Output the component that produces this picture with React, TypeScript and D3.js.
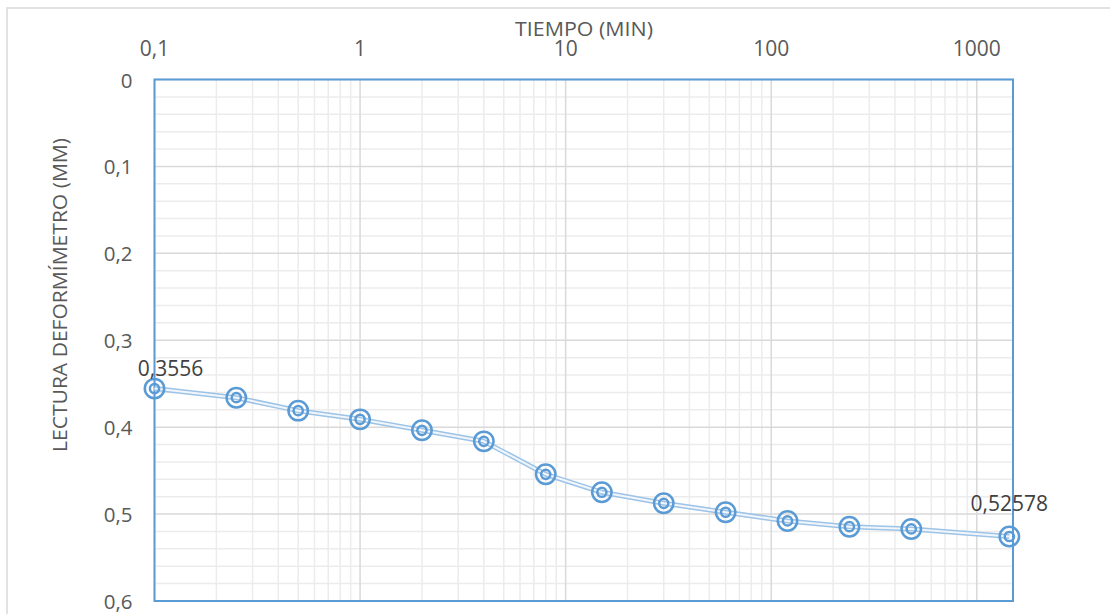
import React from "react";
import * as d3 from "d3";

// Consolidation reading vs. elapsed time (log scale)
const timeMin: number[] = [0.1, 0.25, 0.5, 1, 2, 4, 8, 15, 30, 60, 120, 240, 480, 1440];
const readingMm: number[] = [
  0.3556, 0.3661, 0.381, 0.391, 0.4036, 0.4163, 0.4542, 0.4749, 0.4876, 0.4979, 0.5079,
  0.5145, 0.5171, 0.52578,
];
const xTickValues: number[] = [0.1, 1, 10, 100, 1000];
const yTickValues: number[] = [0, 0.1, 0.2, 0.3, 0.4, 0.5, 0.6];
const labelledIndex: number[] = [0, timeMin.length - 1];

const W = 1110;
const H = 614;
const plot = { left: 154.5, right: 1013, top: 79.5, bottom: 601 };

const FONT = "'Open Sans', 'Noto Sans', sans-serif";
const TEXT = "#595959";
const LABEL = "#404040";
const BLUE = "#5b9bd5";
const LINE = "#9dc3e6";

const fmt = (v: number) => String(v).replace(".", ",");

export default function App() {
  const x = d3.scaleLog().domain([0.1, 1500]).range([plot.left, plot.right]);
  const y = d3.scaleLinear().domain([0, 0.6]).range([plot.top, plot.bottom]);

  // minor vertical gridlines: 2..9 within each decade
  const xMinor: number[] = [];
  for (let d = 0.1; d < 1500; d *= 10) {
    for (let k = 2; k <= 9; k++) {
      const v = d * k;
      if (v < 1500) xMinor.push(v);
    }
  }
  // minor horizontal gridlines every 0.02 between the 0.1 majors
  const yMinor = d3.range(0, 30).map((i) => i * 0.02).filter((_, i) => i % 5 !== 0);

  const line = d3
    .line<number>()
    .x((_, i) => x(timeMin[i]))
    .y((d) => y(d))(readingMm) as string;

  const labelOffsets: Record<number, [number, number]> = {
    0: [16, -12.5],
    [timeMin.length - 1]: [0, -25],
  };

  return (
    <svg
      width={W}
      height={H}
      viewBox={`0 0 ${W} ${H}`}
      style={{ position: "absolute", left: 0, top: 0, display: "block", background: "#fff" }}
    >
      {/* chart frame */}
      <rect x={7} y={8} width={W + 10} height={H + 10} fill="#fff" stroke="#d9d9d9" strokeWidth={1.5} />

      {/* minor gridlines */}
      <g stroke="#ececec" strokeWidth={1.5}>
        {xMinor.map((v) => (
          <line key={"xm" + v} x1={x(v)} x2={x(v)} y1={plot.top} y2={plot.bottom} />
        ))}
        {yMinor.map((v) => (
          <line key={"ym" + v} x1={plot.left} x2={plot.right} y1={y(v)} y2={y(v)} />
        ))}
      </g>
      {/* major gridlines */}
      <g stroke="#d9d9d9" strokeWidth={1.5}>
        {xTickValues.map((v) => (
          <line key={"xM" + v} x1={x(v)} x2={x(v)} y1={plot.top} y2={plot.bottom} />
        ))}
        {yTickValues.map((v) => (
          <line key={"yM" + v} x1={plot.left} x2={plot.right} y1={y(v)} y2={y(v)} />
        ))}
      </g>

      {/* plot area border */}
      <rect
        x={plot.left}
        y={plot.top}
        width={plot.right - plot.left}
        height={plot.bottom - plot.top}
        fill="none"
        stroke={BLUE}
        strokeWidth={2}
      />

      {/* x tick labels (top) */}
      <g fontFamily={FONT} fontSize={21} fill={TEXT} textAnchor="middle">
        {xTickValues.map((v) => (
          <text key={"xt" + v} x={x(v)} y={56}>
            {fmt(v)}
          </text>
        ))}
      </g>
      {/* y tick labels */}
      <g fontFamily={FONT} fontSize={20.5} fill={TEXT} textAnchor="end">
        {yTickValues.map((v) => (
          <text key={"yt" + v} x={132.5} y={y(v) + 8}>
            {fmt(v)}
          </text>
        ))}
      </g>

      {/* axis titles */}
      <text
        x={584}
        y={35.5}
        fontFamily={FONT}
        fontSize={20.5}
        fill={TEXT}
        textAnchor="middle"
        textLength={138}
        lengthAdjust="spacingAndGlyphs"
      >
        TIEMPO (MIN)
      </text>
      <text
        transform={`translate(67,295) rotate(-90)`}
        fontFamily={FONT}
        fontSize={19.5}
        fill={TEXT}
        textAnchor="middle"
        textLength={314}
        lengthAdjust="spacingAndGlyphs"
      >
        LECTURA DEFORMÍMETRO (MM)
      </text>

      {/* series: double line */}
      <path d={line} fill="none" stroke={LINE} strokeWidth={5} strokeLinejoin="round" />
      <path d={line} fill="none" stroke="#fff" strokeWidth={2} strokeLinejoin="round" opacity={0.85} />

      {/* markers: double ring */}
      <g fill="none" stroke={BLUE} strokeWidth={2.5}>
        {readingMm.map((v, i) => (
          <g key={"m" + i}>
            <circle cx={x(timeMin[i])} cy={y(v)} r={9.7} />
            <circle cx={x(timeMin[i])} cy={y(v)} r={4.6} />
          </g>
        ))}
      </g>

      {/* data labels */}
      <g fontFamily={FONT} fontSize={21} fill={LABEL} textAnchor="middle">
        {labelledIndex.map((i) => (
          <text key={"dl" + i} x={x(timeMin[i]) + labelOffsets[i][0]} y={y(readingMm[i]) + labelOffsets[i][1]}>
            {fmt(readingMm[i])}
          </text>
        ))}
      </g>
    </svg>
  );
}
